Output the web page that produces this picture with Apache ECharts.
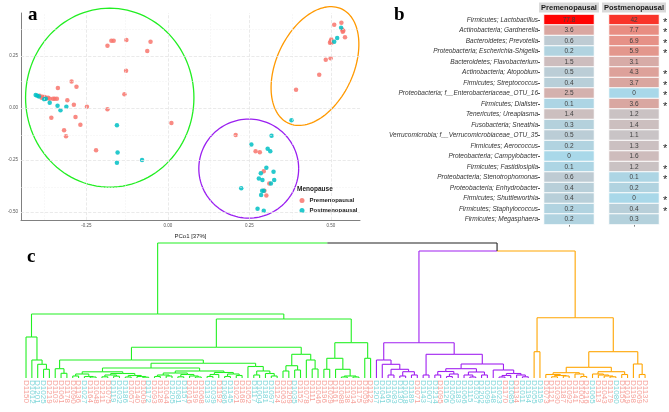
<!DOCTYPE html>
<html><head><meta charset="utf-8">
<script src="https://cdn.jsdelivr.net/npm/echarts/dist/echarts.min.js"></script>
<style>html,body{margin:0;padding:0;background:#fff}#c{width:669px;height:412px}</style>
</head><body><div id="c"></div>
<script>
// ---------- Panel a : PCoA ----------
const preScatter = [
  [-0.185,0.300],[-0.173,0.324],[-0.166,0.324],[-0.127,0.327],[-0.053,0.319],[-0.063,0.274],[-0.128,0.179],[-0.133,0.066],
  [-0.295,0.128],[-0.280,0.103],[-0.337,0.096],
  [-0.393,0.059],[-0.384,0.054],[-0.377,0.053],[-0.367,0.050],[-0.362,0.045],[-0.352,0.045],[-0.347,0.045],[-0.340,0.045],[-0.387,0.050],[-0.372,0.047],
  [-0.308,0.038],[-0.288,0.016],[-0.248,0.006],[-0.185,-0.006],
  [-0.357,-0.047],[-0.283,-0.043],[-0.268,-0.080],[-0.318,-0.107],[-0.312,-0.135],[-0.220,-0.203],[0.011,-0.072],
  [0.208,-0.130],[0.269,-0.208],[0.282,-0.212],[0.294,-0.304],[0.311,-0.362],[0.296,-0.397],[0.302,-0.420],
  [0.510,0.401],[0.532,0.410],[0.534,0.378],[0.538,0.372],[0.536,0.367],[0.543,0.341],[0.501,0.330],[0.499,0.321],
  [0.502,0.314],[0.497,0.314],[0.499,0.240],[0.484,0.232],[0.464,0.160],[0.393,0.088]
];
const postScatter = [
  [-0.405,0.063],[-0.400,0.059],[-0.395,0.056],[-0.379,0.042],[-0.374,0.045],[-0.362,0.025],[-0.338,0.011],[-0.329,-0.010],[-0.311,0.006],
  [-0.156,-0.082],[-0.154,-0.213],[-0.156,-0.263],[-0.079,-0.250],
  [0.318,-0.133],[0.256,-0.175],[0.306,-0.196],[0.314,-0.207],[0.302,-0.287],[0.285,-0.313],[0.324,-0.306],[0.279,-0.338],
  [0.290,-0.346],[0.326,-0.346],[0.316,-0.362],[0.225,-0.385],[0.289,-0.397],[0.294,-0.397],[0.286,-0.418],[0.275,-0.484],[0.294,-0.494],
  [0.531,0.386],[0.519,0.337],[0.510,0.319],[0.379,-0.058]
];
// [centerX, centerY, radiusX, radiusY, rotationDeg, colourIndex]
const ellipses = [
  [-0.178, 0.050, 0.258, 0.430, 0, 0],
  [0.248, -0.291, 0.153, 0.238, 0, 1],
  [0.451, 0.202, 0.118, 0.303, 25, 2]
];
const ellipseColors = ['#22ee22', '#9a1ff0', '#ff9900'];
const xTicks = [-0.25, 0, 0.25, 0.5];
const yTicks = [-0.5, -0.25, 0, 0.25];
const xGrid = [-0.375, -0.25, -0.125, 0, 0.125, 0.25, 0.375, 0.5];
const yGrid = [-0.5, -0.375, -0.25, -0.125, 0, 0.125, 0.25, 0.375];

// ---------- Panel b : heatmap ----------
const taxa = [
  'Firmicutes; Lactobacillus','Actinobacteria; Gardnerella','Bacteroidetes; Prevotella','Proteobacteria; Escherichia-Shigella',
  'Bacteroidetes; Flavobacterium','Actinobacteria; Atopobium','Firmicutes; Streptococcus','Proteobacteria; f__Enterobacteriaceae_OTU_16',
  'Firmicutes; Dialister','Tenericutes; Ureaplasma','Fusobacteria; Sneathia','Verrucomicrobia; f__Verrucomicrobiaceae_OTU_35',
  'Firmicutes; Aerococcus','Proteobacteria; Campylobacter','Firmicutes; Fastidiosipila','Proteobacteria; Stenotrophomonas',
  'Proteobacteria; Enhydrobacter','Firmicutes; Shuttleworthia','Firmicutes; Staphylococcus','Firmicutes; Megasphaera'
];
const preValues  = [77.8,3.6,0.6,0.2,1.5,0.5,0.4,2.5,0.1,1.4,0.3,0.5,0.2,0,0.1,0.6,0.4,0.4,0.2,0.2];
const postValues = [42,7.7,6.9,5.9,3.1,4.3,3.7,0,3.6,1.2,1.4,1.1,1.3,1.6,1.2,0.1,0.2,0,0.4,0.3];
const significant = [1,1,1,1,0,1,1,1,1,0,0,0,1,0,1,1,0,1,1,0];
const heatColors = ['#a9d8e9','#c9c4c6','#d8a9a4','#e98c80','#f06a5a','#f83c30','#ff0000'];

// ---------- Panel c : dendrogram ----------
// node = [height, left, right]; leaf = 'p' (premenopausal) / 'm' (postmenopausal)
const greenTree = [0.64,
  [0.41,'p',[0.18,'m',[0.137,'m',[0.087,'m','p']]]],
  [0.59,
    [0.307,
      [0.18,
        [0.093,'p',[0.047,'p','p']],
        [0.147,
          [0.1,
            [0.062,
              [0.04,[0.02,'p','p'],[0.015,'m',[0.01,'p','p']]],
              [0.045,[0.03,[0.012,'p','p'],[0.018,'m','m']],[0.025,[0.01,'m','p'],[0.015,'p',[0.008,'p','m']]]]
            ],
            [0.07,
              [0.05,[0.03,[0.015,'p','p'],[0.02,'p','m']],[0.035,[0.012,'m','m'],[0.02,'p',[0.01,'p','p']]]],
              [0.055,[0.035,[0.015,'m','m'],'p'],[0.04,[0.015,'m','m'],[0.025,'p','p']]]
            ]
          ],
          [0.115,'p',[0.07,[0.03,'m','m'],[0.045,'m',[0.02,'m','p']]]]
        ]
      ],
      [0.237,[0.123,[0.07,'p','p'],[0.08,'m','p']],[0.18,'p',[0.09,'p','p']]]
    ],
    [0.353,[0.197,[0.087,'p','p'],[0.087,'p',[0.02,[0.01,'p','p'],[0.01,'p','p']]]],[0.197,'p','p']]
  ]
];
const purpleTree = [0.353,
  [0.18,'m',[0.137,'m',[0.087,[0.03,'m','m'],[0.063,[0.02,'m','m'],[0.03,'m','p']]]]],
  [0.237,
    [0.03,'m','m'],
    [0.14,
      [0.093,[0.065,[0.03,'m','p'],[0.04,[0.015,'m','m'],'m']],[0.06,[0.03,'m',[0.01,'m','m']],[0.03,'m','m']]],
      [0.08,'m',[0.045,[0.025,[0.01,'m','p'],'m'],[0.03,'p',[0.012,'m','m']]]]
    ]
  ]
];
const orangeTree = [0.603,
  [0.263,'m','m'],
  [0.263,
    [0.107,
      [0.053,[0.035,'p',[0.025,[0.012,'p','p'],[0.02,'p','p']]],[0.04,'p',[0.015,'p','p']]],
      [0.063,[0.04,'m',[0.03,'p',[0.02,'p',[0.012,'p','m']]]],[0.035,'p','p']]
    ],
    [0.14,'p',[0.035,'p','p']]
  ]
];
const dendroTree = [1.35, greenTree, [1.27, purpleTree, orangeTree]];
const leafLabels = ('D1150 D1012 D1201 D1025 D1219 D1103 D1061 D1178 D1090 D1136 D1027 D1164 D1048 D1211 D1075 D1119 D1032 D1186 D1057 D1140 ' +
  'D1009 D1172 D1093 D1128 D1044 D1205 D1081 D1157 D1016 D1199 D1068 D1133 D1039 D1192 D1086 D1145 D1021 D1168 D1052 D1117 ' +
  'D1004 D1181 D1097 D1124 D1063 D1209 D1035 D1152 D1078 D1111 D1046 D1196 D1029 D1161 D1088 D1138 D1014 D1175 D1059 D1122 ' +
  'D1207 D1041 D1166 D1083 D1130 D1018 D1189 D1071 D1143 D1007 D1214 D1095 D1126 D1050 D1183 D1066 D1115 D1037 D1202 D1099 ' +
  'D1148 D1023 D1170 D1085 D1134 D1011 D1194 ' +
  'D1055 D1159 D1073 D1121 D1030 D1187 D1092 D1141 D1002 D1216 D1065 D1113 D1043 D1179 D1080 D1155 D1019 D1198 D1069 D1132').split(' ');
const dendroColors = ['#222222', '#22f022', '#a020f0', '#ffa500'];

// ---- build dendrogram segments from the tree ----
const leafGroups = [];
const segs = [];
function place(node, col) {
  const c = node === greenTree ? 1 : node === purpleTree ? 2 : node === orangeTree ? 3 : col;
  if (typeof node === 'string') { leafGroups.push(node); return {x: leafGroups.length - 1, h: 0, c: c}; }
  const a = place(node[1], c), b = place(node[2], c);
  const x = (a.x + b.x) / 2, h = node[0];
  [a, b].forEach(k => { segs.push([x, h, k.x, h, k.c]); segs.push([k.x, h, k.x, k.h, k.c]); });
  return {x: x, h: h, c: c};
}
place(dendroTree, 0);
const N = leafGroups.length;

const gridMarks = xGrid.map(v => ({xAxis: v, lineStyle: {color: v % 0.25 === 0 ? '#e4e4e4' : '#f0f0f0', width: v % 0.25 === 0 ? 0.8 : 0.5}}))
  .concat(yGrid.map(v => ({yAxis: v, lineStyle: {color: v % 0.25 === 0 ? '#e4e4e4' : '#f0f0f0', width: v % 0.25 === 0 ? 0.8 : 0.5}})));

const chart = echarts.init(document.getElementById('c'));
const letter = {fontFamily: 'Liberation Serif', fontWeight: 'bold', fontSize: 19, color: '#000'};
const gridBase = {containLabel: false, outerBoundsMode: 'none'};
chart.setOption({
  animation: false,
  textStyle: {fontFamily: 'Liberation Sans'},
  title: [
    {text: 'a', left: 28, top: 6, padding: 0, textStyle: letter},
    {text: 'b', left: 394, top: 6, padding: 0, textStyle: letter},
    {text: 'c', left: 27, top: 248, padding: 0, textStyle: letter},
    {text: 'Menopause', left: 297, top: 186, padding: 0, textStyle: {fontFamily: 'Liberation Sans', fontSize: 6.5, fontWeight: 'bold', color: '#222'}}
  ],
  legend: {
    data: ['Premenopausal', 'Postmenopausal'], orient: 'vertical', left: 299.5, top: 197.5, padding: 0,
    itemWidth: 5, itemHeight: 5, itemGap: 4, icon: 'circle', selectedMode: false,
    textStyle: {fontSize: 6, fontWeight: 'bold', color: '#222'}
  },
  grid: [
    Object.assign({left: 21, top: 13, width: 339, height: 207}, gridBase),
    Object.assign({left: 544, top: 14.5, width: 50, height: 210}, gridBase),
    Object.assign({left: 609, top: 14.5, width: 50, height: 210}, gridBase),
    Object.assign({left: 23.1, top: 243, width: 624.9, height: 135}, gridBase)
  ],
  xAxis: [
    {gridIndex: 0, type: 'value', min: -0.45, max: 0.589, splitLine: {show: false},
     axisLine: {onZero: false, lineStyle: {color: '#808080', width: 1}}, axisTick: {show: false},
     axisLabel: {customValues: xTicks, formatter: v => v.toFixed(2), fontSize: 4.5, color: '#555', margin: 3},
     name: 'PCo1 [37%]', nameLocation: 'middle', nameGap: 9, nameTextStyle: {fontSize: 6, color: '#222'}},
    {gridIndex: 1, type: 'category', position: 'top', data: ['Premenopausal'], axisLine: {show: false}, axisTick: {show: false},
     axisLabel: {fontSize: 7.5, fontWeight: 'bold', color: '#1a1a1a', backgroundColor: '#d9d9d9', padding: [1, 2, 1, 2], margin: 2}},
    {gridIndex: 1, type: 'category', position: 'bottom', data: ['Premenopausal'], axisLine: {show: false},
     axisTick: {show: true, alignWithLabel: true, length: 2, lineStyle: {color: '#555'}}, axisLabel: {show: false}},
    {gridIndex: 2, type: 'category', position: 'top', data: ['Postmenopausal'], axisLine: {show: false}, axisTick: {show: false},
     axisLabel: {fontSize: 7.5, fontWeight: 'bold', color: '#1a1a1a', backgroundColor: '#d9d9d9', padding: [1, 2, 1, 2], margin: 2}},
    {gridIndex: 2, type: 'category', position: 'bottom', data: ['Postmenopausal'], axisLine: {show: false},
     axisTick: {show: true, alignWithLabel: true, length: 2, lineStyle: {color: '#555'}}, axisLabel: {show: false}},
    {gridIndex: 3, type: 'category', data: leafLabels, axisLine: {show: false}, axisTick: {show: false},
     axisLabel: {interval: 0, rotate: -90, fontSize: 8, margin: 2,
       color: (v, i) => leafGroups[i] === 'm' ? '#7fd6d9' : '#f6a19a'}},
    {gridIndex: 3, type: 'value', min: -0.5, max: N - 0.5, show: false}
  ],
  yAxis: [
    {gridIndex: 0, type: 'value', min: -0.538, max: 0.457, splitLine: {show: false},
     axisLine: {show: true, onZero: false, lineStyle: {color: '#808080', width: 1}}, axisTick: {show: false},
     axisLabel: {customValues: yTicks, formatter: v => v.toFixed(2), fontSize: 4.5, color: '#555', margin: 3},
     name: 'PCo2 [16.9%]', nameLocation: 'middle', nameGap: 12, nameTextStyle: {fontSize: 6, color: '#222'}},
    {gridIndex: 1, type: 'category', data: taxa, inverse: true, offset: 4, axisLine: {show: false},
     axisTick: {show: true, alignWithLabel: true, length: 2, interval: 0, lineStyle: {color: '#555'}},
     axisLabel: {interval: 0, fontSize: 6.5, fontStyle: 'italic', color: '#333', margin: 2}},
    {gridIndex: 2, type: 'category', data: taxa, inverse: true, position: 'right', axisLine: {show: false}, axisTick: {show: false},
     axisLabel: {interval: 0, formatter: (v, i) => significant[i] ? '*' : '', fontSize: 11, color: '#222', margin: 4,
       verticalAlign: 'top', lineHeight: 6}},
    {gridIndex: 3, type: 'value', min: 0, max: 1.35, show: false}
  ],
  visualMap: {type: 'continuous', show: false, dimension: 3, min: 0, max: 4.4, seriesIndex: [4, 5], inRange: {color: heatColors}},
  series: [
    {type: 'scatter', name: 'grid', xAxisIndex: 0, yAxisIndex: 0, data: [], z: 0, silent: true,
     markLine: {silent: true, symbol: ['none', 'none'], label: {show: false}, data: gridMarks, animation: false}},
    {type: 'custom', name: 'ellipses', xAxisIndex: 0, yAxisIndex: 0, data: ellipses, silent: true, z: 2,
     renderItem: (params, api) => {
       const cx = api.value(0), cy = api.value(1);
       const c = api.coord([cx, cy]);
       const s = api.size([api.value(2), api.value(3)], [cx, cy]);
       const th = api.value(4) * Math.PI / 180;
       const pts = [];
       for (let k = 0; k <= 120; k++) {
         const t = k / 120 * 2 * Math.PI;
         const lx = s[0] * Math.cos(t), ly = s[1] * Math.sin(t);
         pts.push([c[0] + lx * Math.cos(th) - ly * Math.sin(th), c[1] + lx * Math.sin(th) + ly * Math.cos(th)]);
       }
       return {type: 'polyline', shape: {points: pts}, style: {fill: null, stroke: ellipseColors[api.value(5)], lineWidth: 1.3}};
     }},
    {type: 'scatter', name: 'Premenopausal', xAxisIndex: 0, yAxisIndex: 0, data: preScatter, symbolSize: 4.5, z: 3,
     itemStyle: {color: '#F8766D', opacity: 0.85}},
    {type: 'scatter', name: 'Postmenopausal', xAxisIndex: 0, yAxisIndex: 0, data: postScatter, symbolSize: 4.5, z: 3,
     itemStyle: {color: '#00BFC4', opacity: 0.85}},
    {type: 'heatmap', name: 'preHeat', xAxisIndex: 2, yAxisIndex: 1, data: preValues.map((v, i) => [0, i, v, Math.log1p(v)]),
     itemStyle: {borderColor: '#fff', borderWidth: 1},
     label: {show: true, formatter: p => String(p.data[2]), fontSize: 6.5, color: '#404040'}},
    {type: 'heatmap', name: 'postHeat', xAxisIndex: 4, yAxisIndex: 2, data: postValues.map((v, i) => [0, i, v, Math.log1p(v)]),
     itemStyle: {borderColor: '#fff', borderWidth: 1},
     label: {show: true, formatter: p => String(p.data[2]), fontSize: 6.5, color: '#404040'}},
    {type: 'custom', name: 'dendrogram', xAxisIndex: 6, yAxisIndex: 3, data: segs, silent: true,
     renderItem: (params, api) => {
       const a = api.coord([api.value(0), api.value(1)]);
       const b = api.coord([api.value(2), api.value(3)]);
       return {type: 'line', shape: {x1: a[0], y1: a[1], x2: b[0], y2: b[1]}, style: {stroke: dendroColors[api.value(4)], lineWidth: 1.1}};
     }}
  ]
});
</script></body></html>
